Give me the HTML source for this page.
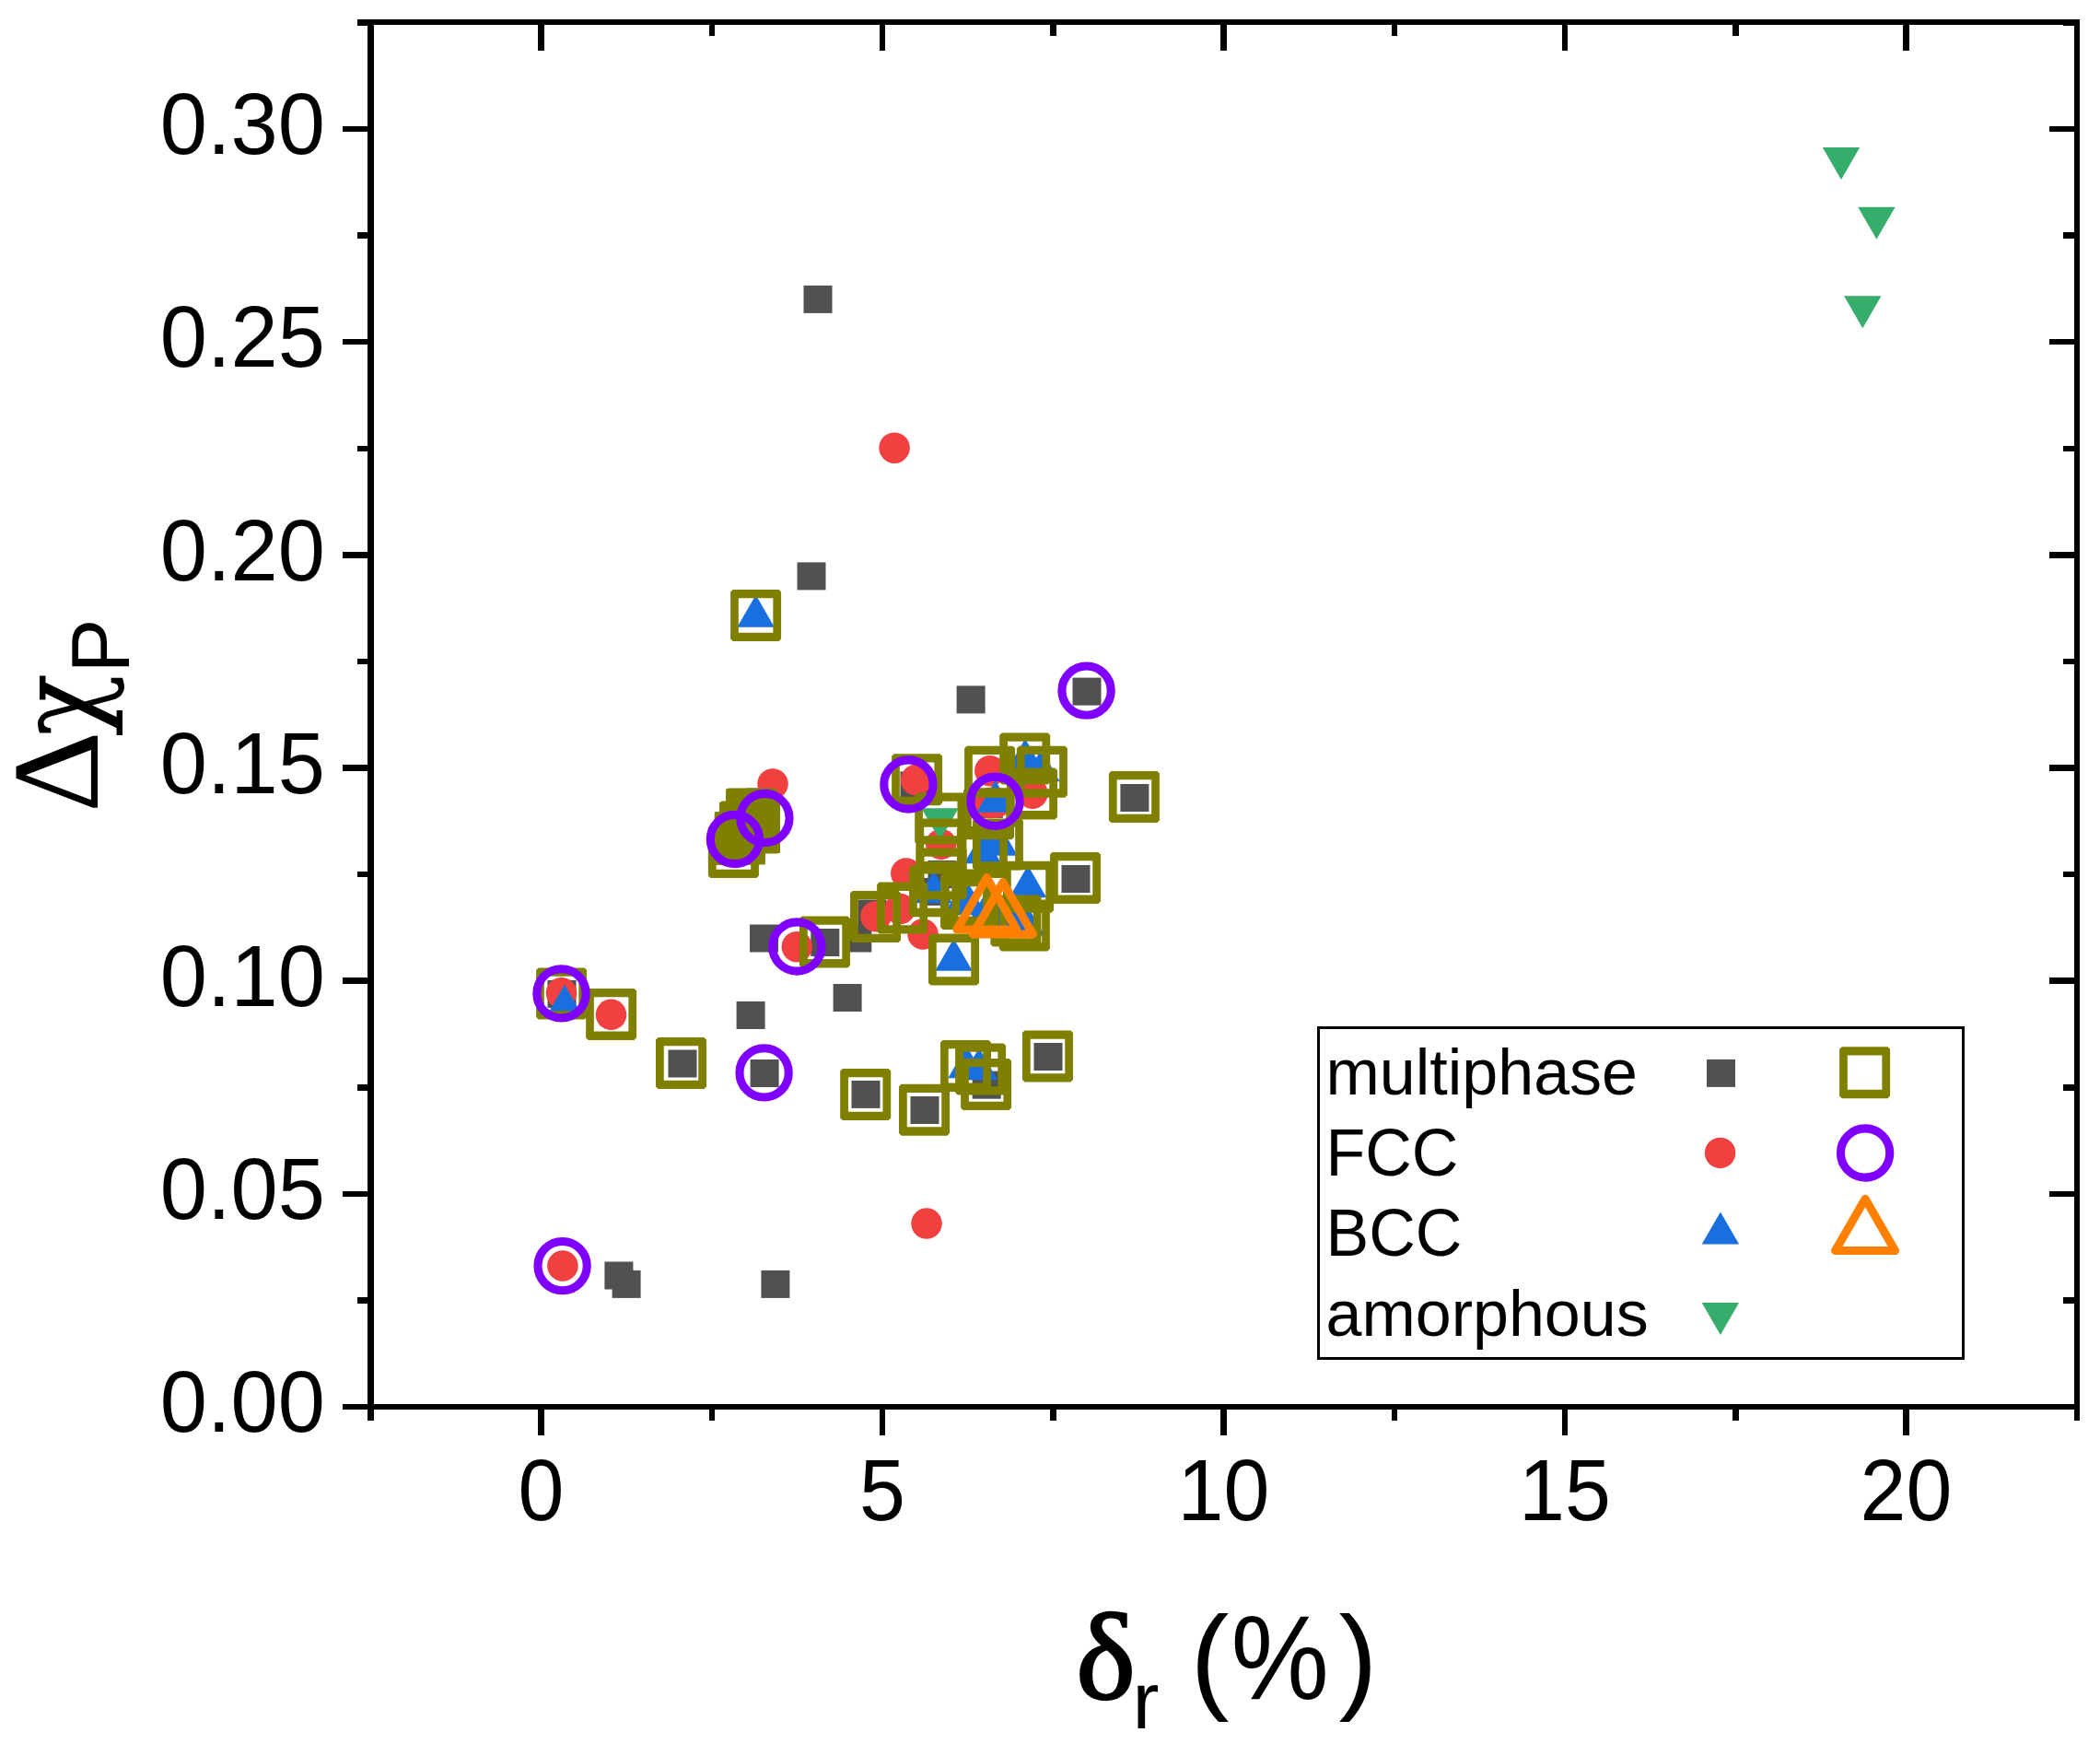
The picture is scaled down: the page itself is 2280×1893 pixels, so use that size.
<!DOCTYPE html>
<html lang="en"><head><meta charset="utf-8"><title>Scatter plot</title>
<style>html,body{margin:0;padding:0;background:#fff}svg{display:block}text{font-family:"Liberation Sans",sans-serif;fill:#000}.ser{font-family:"Liberation Serif",serif}.dj{font-family:"DejaVu Serif",serif}</style></head><body>
<svg width="2280" height="1893" viewBox="0 0 2280 1893">
<rect width="2280" height="1893" fill="#fff"/>
<g shape-rendering="geometricPrecision">
<g fill="#515151">
<rect x="872.5" y="309.9" width="31.0" height="30.0"/>
<rect x="865.5" y="610.4" width="31.0" height="30.0"/>
<rect x="1038.6" y="744.4" width="31.0" height="30.0"/>
<rect x="1164.5" y="735.6" width="31.0" height="30.0"/>
<rect x="1216.4" y="851" width="31.0" height="30.0"/>
<rect x="1152.5" y="939" width="31.0" height="30.0"/>
<rect x="977.5" y="837.4" width="31.0" height="30.0"/>
<rect x="810.2" y="855.5" width="31.0" height="30.0"/>
<rect x="814" y="1003.5" width="31.0" height="30.0"/>
<rect x="880.3" y="1008" width="31.0" height="30.0"/>
<rect x="915.3" y="1003.5" width="31.0" height="30.0"/>
<rect x="931.5" y="976.5" width="31.0" height="30.0"/>
<rect x="1007.5" y="934" width="31.0" height="30.0"/>
<rect x="999.6" y="952.9" width="31.0" height="30.0"/>
<rect x="1057.9" y="857.9" width="31.0" height="30.0"/>
<rect x="799.6" y="1087" width="31.0" height="30.0"/>
<rect x="904.6" y="1068" width="31.0" height="30.0"/>
<rect x="725.5" y="1139.5" width="31.0" height="30.0"/>
<rect x="814.6" y="1150" width="31.0" height="30.0"/>
<rect x="924.5" y="1172.9" width="31.0" height="30.0"/>
<rect x="988.5" y="1190" width="31.0" height="30.0"/>
<rect x="1055.7" y="1162.7" width="31.0" height="30.0"/>
<rect x="1122.5" y="1132" width="31.0" height="30.0"/>
<rect x="656.4" y="1369.5" width="31.0" height="30.0"/>
<rect x="664.6" y="1378.9" width="31.0" height="30.0"/>
<rect x="826.4" y="1378.9" width="31.0" height="30.0"/>
<rect x="594.5" y="1063.9" width="31.0" height="30.0"/>
</g>
<g fill="#f14040">
<circle cx="971.1" cy="486.2" r="16.75"/>
<circle cx="839" cy="850.9" r="16.75"/>
<circle cx="994.6" cy="846.6" r="16.75"/>
<circle cx="1074.8" cy="836.7" r="16.75"/>
<circle cx="1121" cy="861.2" r="16.75"/>
<circle cx="1075" cy="871.6" r="16.75"/>
<circle cx="1081" cy="871.3" r="16.75"/>
<circle cx="1021.8" cy="916.4" r="16.75"/>
<circle cx="983.8" cy="948" r="16.75"/>
<circle cx="950.9" cy="994.7" r="16.75"/>
<circle cx="977.1" cy="986.6" r="16.75"/>
<circle cx="1002" cy="1014" r="16.75"/>
<circle cx="865.3" cy="1027.7" r="16.75"/>
<circle cx="609.5" cy="1077.8" r="16.75"/>
<circle cx="663.5" cy="1101.3" r="16.75"/>
<circle cx="1006" cy="1328.1" r="16.75"/>
<circle cx="610.9" cy="1374" r="16.75"/>
<circle cx="830.4" cy="888" r="16.75"/>
<circle cx="797.9" cy="911" r="16.75"/>
</g>
<g fill="#1a6fdf">
<path d="M820.6 645.67L840.8 680.67H800.4Z"/>
<path d="M613 1068.87L633.2 1103.87H592.8Z"/>
<path d="M1113 801.67L1133.2 836.67H1092.8Z"/>
<path d="M1130.5 813.17L1150.7 848.17H1110.3Z"/>
<path d="M1080.6 846.87L1100.8 881.87H1060.4Z"/>
<path d="M1084.6 893.77L1104.8 928.77H1064.4Z"/>
<path d="M1066.9 902.37L1087.1 937.37H1046.7Z"/>
<path d="M1116 939.27L1136.2 974.27H1095.8Z"/>
<path d="M1013.7 945.17L1033.9 980.17H993.5Z"/>
<path d="M1048 952.87L1068.2 987.87H1027.8Z"/>
<path d="M1048.5 958.17L1068.7 993.17H1028.3Z"/>
<path d="M1071.3 966.87L1091.5 1001.87H1051.1Z"/>
<path d="M1088.7 971.87L1108.9 1006.87H1068.5Z"/>
<path d="M1103 976.27L1123.2 1011.27H1082.8Z"/>
<path d="M1114 980.67L1134.2 1015.67H1093.8Z"/>
<path d="M1035.5 1018.67L1055.7 1053.67H1015.3Z"/>
<path d="M1049.5 1135.17L1069.7 1170.17H1029.3Z"/>
<path d="M1063 1137.17L1083.2 1172.17H1042.8Z"/>
<rect x="1064.5" y="910" width="21" height="11"/>
</g>
<g fill="#37ad6b">
<path d="M1978.8 159.98H2019.2L1999 194.98Z"/>
<path d="M2017.2 224.73H2057.6L2037.4 259.73Z"/>
<path d="M2002.1 321.33H2042.5L2022.3 356.33Z"/>
<path d="M1000.3 877.13H1040.7L1020.5 912.13Z"/>
</g>
<g fill="#808000">
<rect x="788.27" y="863.16" width="58.74" height="62.78"/>
<rect x="775.8" y="881.23" width="55.04" height="57.19"/>
<rect x="768.92" y="897.65" width="55.04" height="41.2"/>
<rect x="788.27" y="856.11" width="55.04" height="19.09"/>
<rect x="780.96" y="870.9" width="29.24" height="30.1"/>
</g>
<g fill="#808000" fill-rule="evenodd">
<path d="M795.7 640H845.5L848.1 642.6V693.4L845.5 696H795.7L793.1 693.4V642.6ZM801.85 649.35V686.65H839.35V649.35Z"/>
<path d="M584.7 1050.5H634.5L637.1 1053.1V1103.9L634.5 1106.5H584.7L582.1 1103.9V1053.1ZM590.85 1059.85V1097.15H628.35V1059.85Z"/>
<path d="M638.7 1072.9H688.5L691.1 1075.5V1126.3L688.5 1128.9H638.7L636.1 1126.3V1075.5ZM644.85 1082.25V1119.55H682.35V1082.25Z"/>
<path d="M714.6 1126H764.4L767 1128.6V1179.4L764.4 1182H714.6L712 1179.4V1128.6ZM720.75 1135.35V1172.65H758.25V1135.35Z"/>
<path d="M914.8 1160H964.6L967.2 1162.6V1213.4L964.6 1216H914.8L912.2 1213.4V1162.6ZM920.95 1169.35V1206.65H958.45V1169.35Z"/>
<path d="M978.6 1176.7H1028.4L1031 1179.3V1230.1L1028.4 1232.7H978.6L976 1230.1V1179.3ZM984.75 1186.05V1223.35H1022.25V1186.05Z"/>
<path d="M1023.6 1128.9H1073.4L1076 1131.5V1182.3L1073.4 1184.9H1023.6L1021 1182.3V1131.5ZM1029.75 1138.25V1175.55H1067.25V1138.25Z"/>
<path d="M1039.7 1132.5H1089.5L1092.1 1135.1V1185.9L1089.5 1188.5H1039.7L1037.1 1185.9V1135.1ZM1045.85 1141.85V1179.15H1083.35V1141.85Z"/>
<path d="M1045.7 1149H1095.5L1098.1 1151.6V1202.4L1095.5 1205H1045.7L1043.1 1202.4V1151.6ZM1051.85 1158.35V1195.65H1089.35V1158.35Z"/>
<path d="M1112.6 1118.5H1162.4L1165 1121.1V1171.9L1162.4 1174.5H1112.6L1110 1171.9V1121.1ZM1118.75 1127.85V1165.15H1156.25V1127.85Z"/>
<path d="M1010.6 1013.6H1060.4L1063 1016.2V1067L1060.4 1069.6H1010.6L1008 1067V1016.2ZM1016.75 1022.95V1060.25H1054.25V1022.95Z"/>
<path d="M870.6 994.4H920.4L923 997V1047.8L920.4 1050.4H870.6L868 1047.8V997ZM876.75 1003.75V1041.05H914.25V1003.75Z"/>
<path d="M925.6 967H975.4L978 969.6V1020.4L975.4 1023H925.6L923 1020.4V969.6ZM931.75 976.35V1013.65H969.25V976.35Z"/>
<path d="M954.7 957.6H1004.5L1007.1 960.2V1011L1004.5 1013.6H954.7L952.1 1011V960.2ZM960.85 966.95V1004.25H998.35V966.95Z"/>
<path d="M989.7 939.2H1039.5L1042.1 941.8V992.6L1039.5 995.2H989.7L987.1 992.6V941.8ZM995.85 948.55V985.85H1033.35V948.55Z"/>
<path d="M1023.6 952.9H1073.4L1076 955.5V1006.3L1073.4 1008.9H1023.6L1021 1006.3V955.5ZM1029.75 962.25V999.55H1067.25V962.25Z"/>
<path d="M1023.6 948.2H1073.4L1076 950.8V1001.6L1073.4 1004.2H1023.6L1021 1001.6V950.8ZM1029.75 957.55V994.85H1067.25V957.55Z"/>
<path d="M995.8 860.5H1045.6L1048.2 863.1V913.9L1045.6 916.5H995.8L993.2 913.9V863.1ZM1001.95 869.85V907.15H1039.45V869.85Z"/>
<path d="M997 888.4H1046.8L1049.4 891V941.8L1046.8 944.4H997L994.4 941.8V891ZM1003.15 897.75V935.05H1040.65V897.75Z"/>
<path d="M997.3 920.5H1047.1L1049.7 923.1V973.9L1047.1 976.5H997.3L994.7 973.9V923.1ZM1003.45 929.85V967.15H1040.95V929.85Z"/>
<path d="M970.7 818.2H1020.5L1023.1 820.8V871.6L1020.5 874.2H970.7L968.1 871.6V820.8ZM976.85 827.55V864.85H1014.35V827.55Z"/>
<path d="M1049.7 809.7H1099.5L1102.1 812.3V863.1L1099.5 865.7H1049.7L1047.1 863.1V812.3ZM1055.85 819.05V856.35H1093.35V819.05Z"/>
<path d="M1087.8 795.5H1137.6L1140.2 798.1V848.9L1137.6 851.5H1087.8L1085.2 848.9V798.1ZM1093.95 804.85V842.15H1131.45V804.85Z"/>
<path d="M1106.5 809.7H1156.3L1158.9 812.3V863.1L1156.3 865.7H1106.5L1103.9 863.1V812.3ZM1112.65 819.05V856.35H1150.15V819.05Z"/>
<path d="M1095.6 833.4H1145.4L1148 836V886.8L1145.4 889.4H1095.6L1093 886.8V836ZM1101.75 842.75V880.05H1139.25V842.75Z"/>
<path d="M1048.6 855.3H1098.4L1101 857.9V908.7L1098.4 911.3H1048.6L1046 908.7V857.9ZM1054.75 864.65V901.95H1092.25V864.65Z"/>
<path d="M1058.5 888.5H1108.3L1110.9 891.1V941.9L1108.3 944.5H1058.5L1055.9 941.9V891.1ZM1064.65 897.85V935.15H1102.15V897.85Z"/>
<path d="M1041.5 896.9H1091.3L1093.9 899.5V950.3L1091.3 952.9H1041.5L1038.9 950.3V899.5ZM1047.65 906.25V943.55H1085.15V906.25Z"/>
<path d="M1091.6 934.8H1141.4L1144 937.4V988.2L1141.4 990.8H1091.6L1089 988.2V937.4ZM1097.75 944.15V981.45H1135.25V944.15Z"/>
<path d="M1078 971.6H1127.8L1130.4 974.2V1025L1127.8 1027.6H1078L1075.4 1025V974.2ZM1084.15 980.95V1018.25H1121.65V980.95Z"/>
<path d="M1087.5 976.6H1137.3L1139.9 979.2V1030L1137.3 1032.6H1087.5L1084.9 1030V979.2ZM1093.65 985.95V1023.25H1131.15V985.95Z"/>
<path d="M1142.6 924.9H1192.4L1195 927.5V978.3L1192.4 980.9H1142.6L1140 978.3V927.5ZM1148.75 934.25V971.55H1186.25V934.25Z"/>
<path d="M1206.5 837H1256.3L1258.9 839.6V890.4L1256.3 893H1206.5L1203.9 890.4V839.6ZM1212.65 846.35V883.65H1250.15V846.35Z"/>
<path d="M790.9 855.6H840.7L843.3 858.2V909L840.7 911.6H790.9L788.3 909V858.2ZM797.05 864.95V902.25H834.55V864.95Z"/>
<path d="M783.6 869.6H833.4L836 872.2V923L833.4 925.6H783.6L781 923V872.2ZM789.75 878.95V916.25H827.25V878.95Z"/>
<path d="M778.4 881.6H828.2L830.8 884.2V935L828.2 937.6H778.4L775.8 935V884.2ZM784.55 890.95V928.25H822.05V890.95Z"/>
<path d="M771.5 897.1H821.3L823.9 899.7V950.5L821.3 953.1H771.5L768.9 950.5V899.7ZM777.65 906.45V943.75H815.15V906.45Z"/>
<path d="M794.6 870.4H844.4L847 873V923.8L844.4 926.4H794.6L792 923.8V873ZM800.75 879.75V917.05H838.25V879.75Z"/>
</g>
<g fill="none" stroke="#8000ff" stroke-width="9.1">
<circle cx="609.5" cy="1078.4" r="26.65"/>
<circle cx="610.6" cy="1374.1" r="26.65"/>
<circle cx="829.6" cy="1164.4" r="26.65"/>
<circle cx="865.3" cy="1027.5" r="26.65"/>
<circle cx="797.9" cy="911" r="26.65"/>
<circle cx="830.4" cy="888" r="26.65"/>
<circle cx="986.4" cy="851.5" r="26.65"/>
<circle cx="1080.5" cy="869.8" r="26.65"/>
<circle cx="1179.6" cy="749.6" r="26.65"/>
</g>
<g fill="none" stroke="#ff8000" stroke-width="9.1" stroke-linejoin="round">
<path d="M1071.4 952.73L1103.85 1008.94H1038.95Z"/>
<path d="M1088.9 957.73L1121.35 1013.94H1056.45Z"/>
</g>
</g>
<g stroke="#000" stroke-width="6.5" fill="none" shape-rendering="crispEdges">
<path d="M402.5 20.75V1530.25M2255.0 20.75V1530.25M399.25 24.0H2258.25M399.25 1527.0H2258.25"/>
<path d="M402.25 1527.0v15.0M402.25 24.0v15.0M587.5 1527.0v30.5M587.5 24.0v30.5M772.75 1527.0v15.0M772.75 24.0v15.0M958 1527.0v30.5M958 24.0v30.5M1143.25 1527.0v15.0M1143.25 24.0v15.0M1328.5 1527.0v30.5M1328.5 24.0v30.5M1513.75 1527.0v15.0M1513.75 24.0v15.0M1699 1527.0v30.5M1699 24.0v30.5M1884.25 1527.0v15.0M1884.25 24.0v15.0M2069.5 1527.0v30.5M2069.5 24.0v30.5M2254.75 1527.0v15.0M2254.75 24.0v15.0M402.5 1527h-30.5M2255.0 1527h-30.5M402.5 1411.42h-15.0M2255.0 1411.42h-15.0M402.5 1295.84h-30.5M2255.0 1295.84h-30.5M402.5 1180.25h-15.0M2255.0 1180.25h-15.0M402.5 1064.67h-30.5M2255.0 1064.67h-30.5M402.5 949.09h-15.0M2255.0 949.09h-15.0M402.5 833.5h-30.5M2255.0 833.5h-30.5M402.5 717.92h-15.0M2255.0 717.92h-15.0M402.5 602.34h-30.5M2255.0 602.34h-30.5M402.5 486.76h-15.0M2255.0 486.76h-15.0M402.5 371.17h-30.5M2255.0 371.17h-30.5M402.5 255.59h-15.0M2255.0 255.59h-15.0M402.5 140.01h-30.5M2255.0 140.01h-30.5M402.5 24.43h-15.0M2255.0 24.43h-15.0"/>
</g>
<g font-size="92" text-anchor="end">
<text transform="translate(352.8 1554.3) scale(1 1.033)">0.00</text>
<text transform="translate(352.8 1323.13) scale(1 1.033)">0.05</text>
<text transform="translate(352.8 1091.97) scale(1 1.033)">0.10</text>
<text transform="translate(352.8 860.8) scale(1 1.033)">0.15</text>
<text transform="translate(352.8 629.64) scale(1 1.033)">0.20</text>
<text transform="translate(352.8 398.47) scale(1 1.033)">0.25</text>
<text transform="translate(352.8 167.31) scale(1 1.033)">0.30</text>
</g>
<g font-size="92" text-anchor="middle">
<text transform="translate(587.5 1649.7) scale(0.975 1.033)">0</text>
<text transform="translate(958 1649.7) scale(0.975 1.033)">5</text>
<text transform="translate(1328.5 1649.7) scale(0.975 1.033)">10</text>
<text transform="translate(1699 1649.7) scale(0.975 1.033)">15</text>
<text transform="translate(2069.5 1649.7) scale(0.975 1.033)">20</text>
</g>
<text class="ser" font-size="133" transform="translate(106.2 882) rotate(-90) scale(1.035 1)">Δ</text>
<text class="dj" font-size="123" transform="translate(107.4 799.2) rotate(-90) scale(0.915 1)">χ</text>
<text font-size="88.5" transform="translate(140.4 730.6) rotate(-90)">P</text>
<text class="ser" font-size="132.5" stroke="#000" stroke-width="2.4" transform="translate(1168.2 1844.2) scale(1.035 1)">δ</text>
<text font-size="87" x="1229.4" y="1876.2">r</text>
<text font-size="126" x="1292.6" y="1842.6">(</text>
<text font-size="126" x="1336.5" y="1843.4" transform="translate(1336.5 0) scale(0.95 1.035) translate(-1336.5 -62)" >%</text>
<text font-size="126" x="1453.5" y="1842.6">)</text>
<rect x="1431.5" y="1115.5" width="700" height="359" fill="#fff" stroke="#000" stroke-width="3" shape-rendering="crispEdges"/>
<g font-size="70">
<text transform="translate(1439.5 1187.9) scale(1 1)">multiphase</text>
<text transform="translate(1439.5 1275.6) scale(1 1.04)">FCC</text>
<text transform="translate(1439.5 1362.8) scale(1 1.04)">BCC</text>
<text transform="translate(1439.5 1449.6) scale(1 1)">amorphous</text>
</g>
<rect x="1853" y="1149.9" width="31.0" height="30.0" fill="#515151"/>
<circle cx="1867.6" cy="1251.4" r="16.75" fill="#f14040"/>
<path fill="#1a6fdf" d="M1867.9 1315.47L1888.1 1350.47H1847.7Z"/>
<path fill="#37ad6b" d="M1847.7 1414.03H1888.1L1867.9 1449.03Z"/>
<path fill="#808000" fill-rule="evenodd" d="M1999.7 1136.2H2049.5L2052.1 1138.8V1189.6L2049.5 1192.2H1999.7L1997.1 1189.6V1138.8ZM2005.85 1145.55V1182.85H2043.35V1145.55Z"/>
<circle cx="2025.1" cy="1251.5" r="26.65" fill="none" stroke="#8000ff" stroke-width="9.1"/>
<path fill="none" stroke="#ff8000" stroke-width="9.1" stroke-linejoin="round" d="M2025.1 1301.33L2057.55 1357.54H1992.65Z"/>
</svg></body></html>
